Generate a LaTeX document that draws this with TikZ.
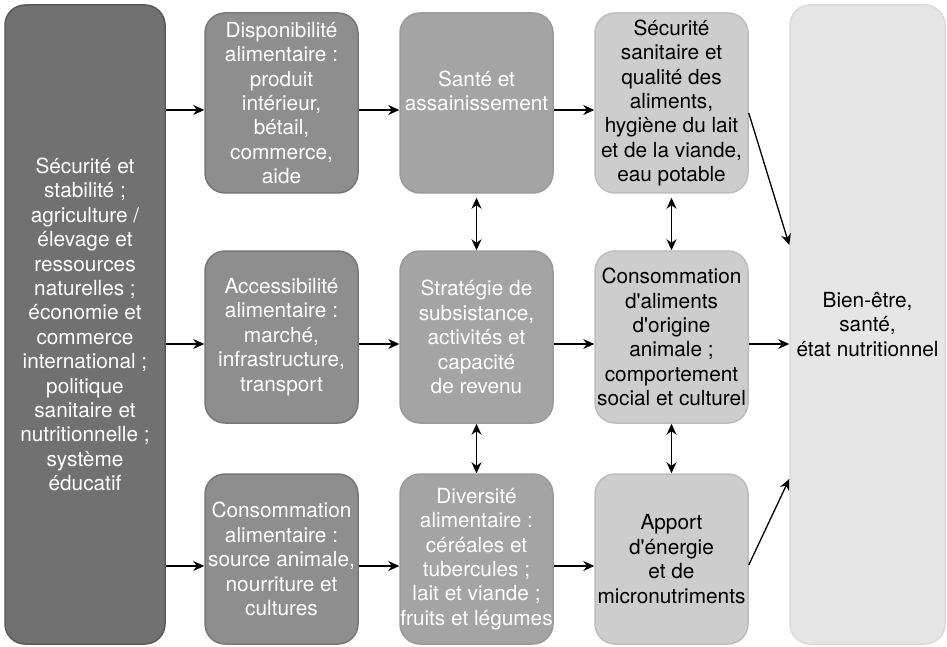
\documentclass[tikz,border=0pt]{standalone}
\usepackage{fontspec}
\setmainfont{TeX Gyre Heros}
\usetikzlibrary{arrows.meta}

\definecolor{fillA}{HTML}{717171}
\definecolor{lineA}{HTML}{5A5A5A}
\definecolor{fillB}{HTML}{8E8E8E}
\definecolor{lineB}{HTML}{777777}
\definecolor{fillC}{HTML}{A4A4A4}
\definecolor{lineC}{HTML}{9A9A9A}
\definecolor{fillD}{HTML}{CDCDCD}
\definecolor{lineD}{HTML}{BDBDBD}
\definecolor{fillE}{HTML}{E6E6E6}
\definecolor{lineE}{HTML}{DADADA}

\tikzset{
  box/.style={rounded corners=20pt, line width=1.5pt, align=center, inner xsep=0pt,
    inner ysep=2pt, minimum width=153pt, font=\fontsize{20.8}{24.4}\selectfont},
  boxA/.style={box, fill=fillA, draw=lineA, text=white},
  boxB/.style={box, fill=fillB, draw=lineB, text=white},
  boxC/.style={box, fill=fillC, draw=lineC, text=white},
  boxD/.style={box, fill=fillD, draw=lineD, text=black},
  boxE/.style={box, fill=fillE, draw=lineE, text=black}
}

\begin{document}
\begin{tikzpicture}[x=1pt, y=-1pt, line width=1.3pt,
    >={Stealth[length=11pt,width=10pt]}]
  \useasboundingbox (0,0) rectangle (947,647);

  % left column
  \node[boxA, minimum width=160pt, minimum height=639pt] (secu) at (85,324.5)
    {Sécurité et\\stabilité ;\\agriculture /\\élevage et\\ressources\\naturelles ;\\économie et\\commerce\\international ;\\politique\\sanitaire et\\nutritionnelle ;\\système\\éducatif};

  % second column
  \node[boxB, minimum height=180pt] (dispo) at (281.5,103)
    {Disponibilité\\alimentaire :\\produit\\intérieur,\\bétail,\\commerce,\\aide};
  \node[boxB, minimum height=172pt] (acces) at (281.5,337)
    {Accessibilité\\alimentaire :\\marché,\\infrastructure,\\transport};
  \node[boxB, minimum height=170pt] (consalim) at (281.5,559)
    {Consommation\\alimentaire :\\source animale,\\nourriture et\\cultures};

  % third column
  \node[boxC, minimum height=180pt] (sante) at (476.5,103)
    {Santé et\\assainissement\\~};
  \node[boxC, minimum height=172pt] (strat) at (476.5,337)
    {Stratégie de\\subsistance,\\activités et\\capacité\\de revenu};
  \node[boxC, minimum height=170pt] (divers) at (476.5,559)
    {Diversité\\alimentaire :\\céréales et\\tubercules ;\\lait et viande ;\\fruits et légumes};

  % fourth column
  \node[boxD, minimum height=180pt] (qualite) at (671.5,103)
    {Sécurité\\sanitaire et\\qualité des\\aliments,\\hygiène du lait\\et de la viande,\\eau potable};
  \node[boxD, minimum height=172pt] (consanim) at (671.5,337)
    {Consommation\\d\textquotesingle aliments\\d\textquotesingle origine\\animale ;\\comportement\\social et culturel};
  \node[boxD, minimum height=170pt] (apport) at (671.5,559)
    {Apport\\d\textquotesingle énergie\\et de\\micronutriments};

  % right column
  \node[boxE, minimum width=155pt, minimum height=639pt] (etat) at (867.5,324.5)
    {Bien-être,\\santé,\\état nutritionnel};

  \draw[->] ([yshift=-7pt]secu.east |- dispo.west) -- ([yshift=-7pt]dispo.west);
  \draw[->] ([yshift=-7pt]secu.east |- acces.west) -- ([yshift=-7pt]acces.west);
  \draw[->] ([yshift=-7pt]secu.east |- consalim.west) -- ([yshift=-7pt]consalim.west);

  \draw[->] ([yshift=-7pt]dispo.east) -- ([yshift=-7pt]sante.west);
  \draw[->] ([yshift=-7pt]acces.east) -- ([yshift=-7pt]strat.west);
  \draw[->] ([yshift=-7pt]consalim.east) -- ([yshift=-7pt]divers.west);

  \draw[->] ([yshift=-7pt]sante.east) -- ([yshift=-7pt]qualite.west);
  \draw[->] ([yshift=-7pt]strat.east) -- ([yshift=-7pt]consanim.west);
  \draw[->] ([yshift=-7pt]divers.east) -- ([yshift=-7pt]apport.west);

  \draw[<->, shorten <=4pt] (sante) -- (strat);
  \draw[<->] (strat) -- (divers);
  \draw[<->, shorten <=4pt] (qualite) -- (consanim);
  \draw[<->] (consanim) -- (apport);

  \draw[->] ([yshift=-10pt]qualite.east) -- ([yshift=79.5pt]etat.west);
  \draw[->] ([yshift=-7pt]consanim.east) -- ([yshift=-7pt]consanim.east -| etat.west);
  \draw[->] ([yshift=-6pt]apport.east) -- ([yshift=-154.5pt]etat.west);
\end{tikzpicture}
\end{document}
